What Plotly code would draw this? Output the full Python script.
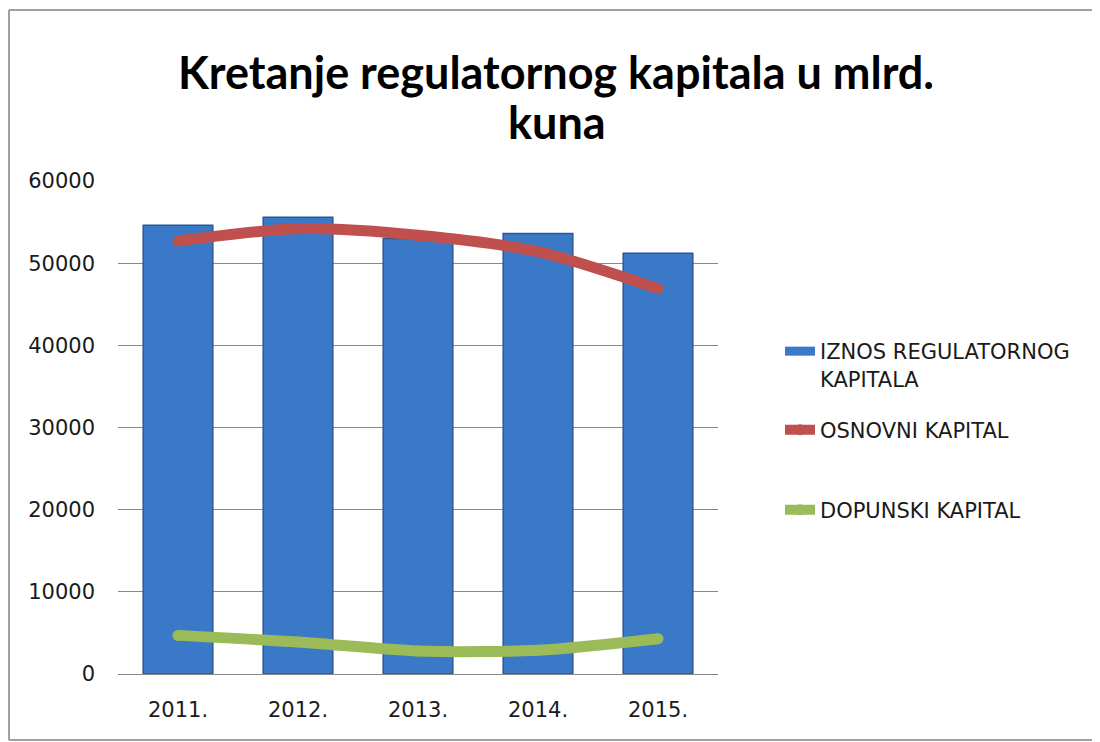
import plotly.graph_objects as go

# ── Data ─────────────────────────────────────────────────────────────────────
YEARS = ["2011.", "2012.", "2013.", "2014.", "2015."]
REGULATORNI = [54600, 55600, 53000, 53600, 51200]   # IZNOS REGULATORNOG KAPITALA
OSNOVNI = [52700, 54200, 53400, 51400, 46900]       # OSNOVNI KAPITAL
DOPUNSKI = [4700, 3900, 2800, 2900, 4300]           # DOPUNSKI KAPITAL
Y_TICKS = [0, 10000, 20000, 30000, 40000, 50000, 60000]

# ── Colours ──────────────────────────────────────────────────────────────────
BAR_BLUE = "#3a78c8"
BAR_EDGE = "#2b5894"
RED = "#c0504d"
GREEN = "#9bbb59"
GRID = "#888888"
FRAME = "#a0a0a0"
TEXT = "#1a1a1a"
FONT = "DejaVu Sans"
TITLE_FONT = dict(family="Lato", size=45, color="black", weight="bold")

# page is offset by the 8px body margin, so size the figure to fit the window
OFF = 8
W, H = 1100 - OFF, 742 - OFF
# plot area in screen pixels: x 118..718, y 181..674
L, T = 118 - OFF, 181 - OFF
PW, PH = 600, 493
R, B = W - L - PW, H - T - PH


def px_x(sx):
    """screen x pixel -> paper x"""
    return (sx - OFF - L) / PW


def px_y(sy):
    """screen y pixel -> paper y"""
    return (T + PH - (sy - OFF)) / PH


fig = go.Figure()

fig.add_trace(go.Bar(
    x=YEARS, y=REGULATORNI,
    name="IZNOS REGULATORNOG<br>KAPITALA",
    marker=dict(color=BAR_BLUE, line=dict(color=BAR_EDGE, width=1.5)),
    width=0.58,
    showlegend=False,
))
# legend-only entry so the bar key is drawn as a wide swatch like the original
fig.add_trace(go.Scatter(
    x=[None], y=[None], name="IZNOS REGULATORNOG<br>KAPITALA",
    mode="lines", line=dict(color=BAR_BLUE, width=9),
    legend="legend",
))

fig.add_trace(go.Scatter(
    x=YEARS, y=OSNOVNI, name="OSNOVNI KAPITAL",
    mode="lines+markers",
    line=dict(color=RED, width=11, shape="spline", smoothing=0.8),
    marker=dict(color=RED, size=11),
    legend="legend2",
))

fig.add_trace(go.Scatter(
    x=YEARS, y=DOPUNSKI, name="DOPUNSKI KAPITAL",
    mode="lines+markers",
    line=dict(color=GREEN, width=11, shape="spline", smoothing=0.8),
    marker=dict(color=GREEN, size=11),
    legend="legend3",
))

legend_common = dict(
    x=px_x(780), xanchor="left", yanchor="middle",
    bgcolor="rgba(0,0,0,0)", borderwidth=0, valign="top",
    font=dict(family=FONT, size=21, color=TEXT),
)

fig.update_layout(
    width=W, height=H,
    paper_bgcolor="white", plot_bgcolor="white",
    margin=dict(l=L, r=R, t=T, b=B, autoexpand=False),
    title=dict(
        text="Kretanje regulatornog kapitala u mlrd.",
        font=TITLE_FONT,
        x=px_x(556), xref="paper", xanchor="center",
        y=1 - (73 - OFF) / H, yref="container", yanchor="middle",
    ),
    legend=dict(y=px_y(365), **legend_common),
    legend2=dict(y=px_y(430), **legend_common),
    legend3=dict(y=px_y(510), **legend_common),
    showlegend=True,
)

# second line of the title
fig.add_annotation(
    text="kuna", font=TITLE_FONT, showarrow=False,
    xref="paper", yref="paper", x=px_x(557), y=px_y(122),
    xanchor="center", yanchor="middle",
)

fig.update_yaxes(
    range=[0, 60000], tickvals=Y_TICKS, tickformat="d",
    showgrid=True, gridcolor=GRID, gridwidth=1,
    zeroline=False, showline=False, ticks="",
    ticklabelstandoff=22,
    tickfont=dict(family=FONT, size=21, color=TEXT),
)
fig.update_xaxes(
    showgrid=False, showline=True, linecolor=GRID, linewidth=1,
    ticks="", ticklabelstandoff=17,
    tickfont=dict(family=FONT, size=21, color=TEXT),
)

# chart frame: left, top and bottom edges (the right edge runs off the page)
fx0, fx1 = px_x(9), px_x(1100)
fy0, fy1 = px_y(740), px_y(10)
for x0, y0, x1, y1 in [(fx0, fy0, fx0, fy1), (fx0, fy1, fx1, fy1), (fx0, fy0, fx1, fy0)]:
    fig.add_shape(
        type="line", xref="paper", yref="paper",
        x0=x0, y0=y0, x1=x1, y1=y1,
        line=dict(color=FRAME, width=2), layer="below",
    )

# keep the page from growing scrollbars
fig.write_html("out.html", post_script="document.body.style.overflow='hidden';")
